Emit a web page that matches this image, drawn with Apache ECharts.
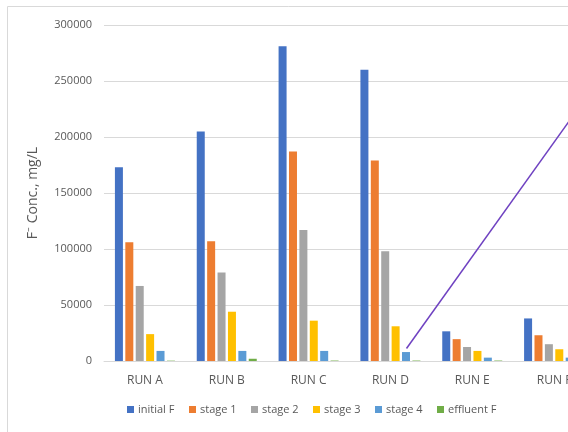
<!DOCTYPE html>
<html><head><meta charset="utf-8">
<script src="https://cdn.jsdelivr.net/npm/echarts@6/dist/echarts.min.js"></script>
<style>html,body{margin:0;padding:0;background:#fff}#c{width:568px;height:432px}</style>
</head><body><div id="c"></div>
<script>
var categories = ['RUN A','RUN B','RUN C','RUN D','RUN E','RUN F'];
var seriesNames = ['initial F','stage 1','stage 2','stage 3','stage 4','effluent F'];
var initialF = [173000, 205000, 281000, 260000, 26500, 38000];
var stage1   = [106000, 107000, 187000, 179000, 19500, 23000];
var stage2   = [67000, 79000, 117000, 98000, 12500, 15000];
var stage3   = [24000, 44000, 36000, 31000, 9000, 10500];
var stage4   = [9000, 9000, 9000, 8000, 3000, 3000];
var effluentF= [300, 2000, 400, 400, 400, 400];
var yTicks = {min:0, max:300000, interval:50000};
var colors = ['#4472C4','#ED7D31','#A5A5A5','#FFC000','#5B9BD5','#70AD47'];
var values = [initialF, stage1, stage2, stage3, stage4, effluentF];

var chart = echarts.init(document.getElementById('c'), null, {renderer:'canvas'});
var font = 'Open Sans';
var legendX = [127,189,251,313,375,437];
var series = seriesNames.map(function(n,i){
  return {name:n, type:'bar', data:values[i], barWidth:8, barGap:'30%',
    itemStyle:{color:colors[i]}, animation:false};
});
var legends = seriesNames.map(function(n,i){
  return {data:[n], left:legendX[i], top:404, itemWidth:7, itemHeight:7, itemGap:4, icon:'rect',
    textStyle:{fontFamily:font, fontSize:11, color:'#595959', padding:[0,0,0,-1]}, padding:0};
});
chart.setOption({
  animation:false,
  color:colors,
  grid:{left:104, top:25, width:491, bottom:71, containLabel:false, outerBoundsMode:'none'},
  legend:legends,
  xAxis:{type:'category', data:categories,
    axisLine:{lineStyle:{color:'#d9d9d9'}}, axisTick:{show:false},
    axisLabel:{fontFamily:font, fontSize:12, color:'#595959', margin:14, hideOverlap:false}},
  yAxis:{type:'value', min:yTicks.min, max:yTicks.max, interval:yTicks.interval,
    name:'F⁻ Conc., mg/L', nameLocation:'middle', nameGap:64, nameRotate:90,
    nameTextStyle:{fontFamily:font, fontSize:14, color:'#595959'},
    axisLine:{show:false}, axisTick:{show:false},
    axisLabel:{fontFamily:font, fontSize:11, color:'#595959', margin:12,
      formatter:function(v){return String(v);}},
    splitLine:{lineStyle:{color:'#d9d9d9', width:1}}},
  series:series,
  graphic:[
    {type:'rect', shape:{x:7.5, y:6.5, width:620, height:450}, style:{fill:null, stroke:'#d9d9d9', lineWidth:1}, silent:true},
    {type:'line', shape:{x1:406.5, y1:348.5, x2:600, y2:78}, style:{stroke:'#6F42C1', lineWidth:1.5}, silent:true, z:100}
  ]
});
</script></body></html>
